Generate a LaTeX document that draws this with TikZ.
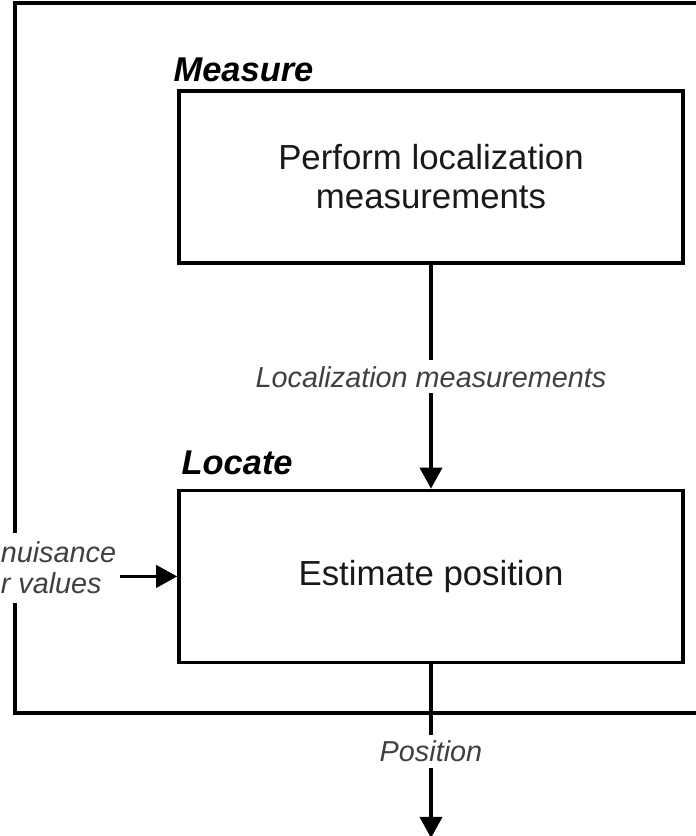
\documentclass[tikz,border=0pt]{standalone}
\usepackage{fontspec}
\setmainfont{Liberation Sans}
\usetikzlibrary{arrows.meta, positioning}

\begin{document}
\begin{tikzpicture}[>={Triangle[width=12.5pt, length=12pt]}, x=0.02cm, y=-0.02cm]

% --- Style Definitions ---
\tikzstyle{step_box}=[rectangle, draw, line width=2pt, minimum width=10.08cm, minimum height=3.44cm, align=center, text=black!90, font=\fontsize{19.8}{22.2}\selectfont]
\tikzstyle{stage_label}=[inner sep=0pt, font=\fontsize{19.6}{22}\selectfont\bfseries\itshape]
\tikzstyle{flow_label}=[fill=white, text=black!75, font=\fontsize{16.4}{17.6}\selectfont\itshape]
\tikzstyle{flow_arrow}=[->, line width=2.2pt]

\useasboundingbox (0,0) rectangle (696,836);

% --- Outer loop frame (runs off the right edge) ---
\draw[line width=2.2pt] (705,3) -- (15,3) -- (15,713) -- (705,713);

% --- Define Nodes ---
\node[step_box] (measure) at (431,177) {Perform localization\\measurements};
\node[step_box, below=4.48cm of measure] (locate) {Estimate position};

\node[stage_label, anchor=base west] at ([shift={(-4,-8)}]measure.north west) {Measure};
\node[stage_label, anchor=base west] at ([shift={(4,-14)}]locate.north west) {Locate};

\node[flow_label, align=left, anchor=east, inner xsep=2pt, inner ysep=5pt] (nuisance) at (120,568) {nuisance\\r values};
\coordinate (output) at (431,838);

% --- Draw Connections ---
\draw[flow_arrow] (measure) -- node[flow_label] {Localization measurements} (locate);
\draw[flow_arrow] (nuisance.east |- locate.west) -- (locate.west);
\draw[flow_arrow] (locate) -- node[flow_label, pos=0.5] {Position} (output);

\end{tikzpicture}
\end{document}
